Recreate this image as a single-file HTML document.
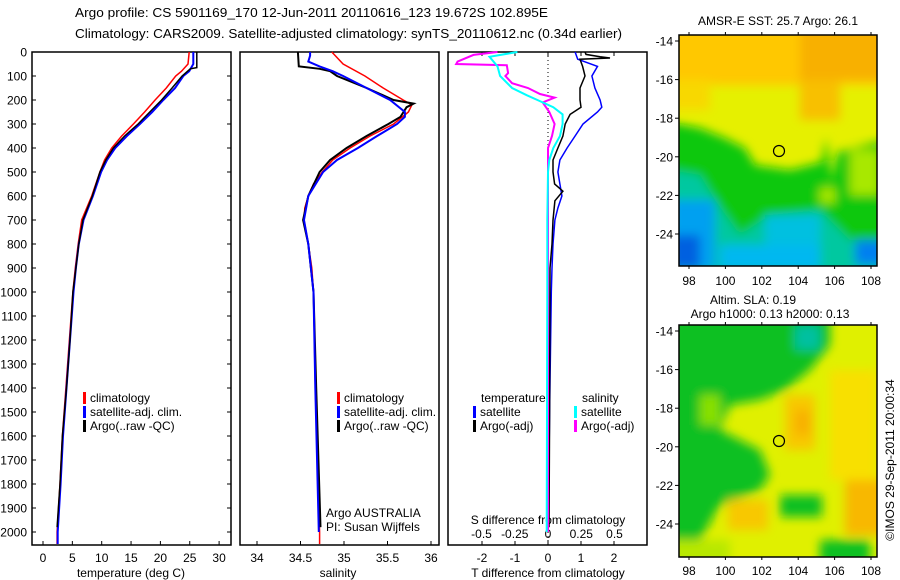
<!DOCTYPE html>
<html><head><meta charset="utf-8">
<style>
html,body{margin:0;padding:0;background:#fff;}
svg{display:block;font-family:"Liberation Sans",sans-serif;}
text{fill:#000;}
</style></head>
<body>
<svg id="chart" width="900" height="580" viewBox="0 0 900 580" xmlns="http://www.w3.org/2000/svg">
<defs>
<filter id="blur" x="-5%" y="-5%" width="110%" height="110%"><feGaussianBlur stdDeviation="5"/></filter>
<clipPath id="clip1"><rect x="679" y="35" width="198" height="231"/></clipPath>
<clipPath id="clip2"><rect x="679" y="325" width="198" height="232"/></clipPath>
</defs>
<text x="75" y="17" font-size="13" textLength="473" lengthAdjust="spacingAndGlyphs">Argo profile: CS 5901169_170 12-Jun-2011 20110616_123 19.672S 102.895E</text>
<text x="75" y="38" font-size="13" textLength="547" lengthAdjust="spacingAndGlyphs">Climatology: CARS2009. Satellite-adjusted climatology: synTS_20110612.nc (0.34d earlier)</text>

<g id="maps">
<g clip-path="url(#clip1)">
<rect x="679" y="35" width="198" height="231" fill="#e6f000"/>
<g filter="url(#blur)">
<rect x="670" y="25" width="220" height="60" fill="#ffc800"/>
<rect x="800" y="25" width="90" height="55" fill="#f8b000"/>
<rect x="670" y="80" width="40" height="30" fill="#f8d800"/>
<rect x="800" y="80" width="40" height="40" fill="#f8c000"/>
<polygon points="670,122 700,128 725,138 745,148 755,165 790,170 822,162 826,138 832,180 838,152 877,142 890,142 890,280 670,280" fill="#10c810"/>
<rect x="850" y="150" width="30" height="45" fill="#a8e800"/>
<rect x="820" y="188" width="15" height="15" fill="#a8e800"/>
<polygon points="670,170 700,175 715,200 740,235 770,215 820,210 850,240 890,250 890,280 670,280" fill="#00c8a0"/>
<rect x="765" y="215" width="55" height="40" fill="#00c0e0"/>
<rect x="670" y="200" width="45" height="70" fill="#00a0f0"/>
<rect x="670" y="235" width="30" height="35" fill="#0060e0"/>
<rect x="720" y="245" width="100" height="25" fill="#00b8f0"/>
<rect x="855" y="240" width="30" height="25" fill="#0080f0"/>
</g>
</g>
<g clip-path="url(#clip2)">
<rect x="679" y="325" width="198" height="232" fill="#e0f000"/>
<g filter="url(#blur)">
<polygon points="670,315 830,315 830,345 810,370 785,390 760,400 730,405 720,430 760,450 770,475 760,490 720,505 700,540 670,540" fill="#10c020"/>
<rect x="795" y="325" width="25" height="25" fill="#00c0a0"/>
<rect x="700" y="395" width="20" height="30" fill="#88e000"/>
<rect x="785" y="395" width="30" height="55" fill="#f8c800"/>
<rect x="795" y="410" width="15" height="25" fill="#f8b000"/>
<rect x="830" y="370" width="47" height="110" fill="#f8e000"/>
<rect x="845" y="480" width="40" height="55" fill="#f8b800"/>
<rect x="728" y="500" width="40" height="30" fill="#f8c800"/>
<rect x="780" y="495" width="42" height="22" fill="#10c020"/>
<rect x="820" y="540" width="50" height="25" fill="#10c020"/>
<rect x="670" y="540" width="60" height="25" fill="#b8e800"/>
</g>
</g>
<rect x="679" y="35" width="198" height="231" fill="none" stroke="#000" stroke-width="1.5"/>
<rect x="679" y="325" width="198" height="232" fill="none" stroke="#000" stroke-width="1.5"/>
<circle cx="779" cy="151" r="5.5" fill="none" stroke="#000" stroke-width="1.2"/>
<circle cx="779" cy="441" r="5.5" fill="none" stroke="#000" stroke-width="1.2"/>
<text x="778" y="25" font-size="12" text-anchor="middle">AMSR-E SST: 25.7 Argo: 26.1</text>
<text x="753" y="304" font-size="12" text-anchor="middle">Altim. SLA: 0.19</text>
<text x="770" y="318" font-size="12" text-anchor="middle">Argo h1000: 0.13 h2000: 0.13</text>
<text x="0" y="0" font-size="12" text-anchor="middle" transform="translate(894,460) rotate(-90)">©IMOS 29-Sep-2011 20:00:34</text>
</g>

<g id="panels"></g>
</svg>
<script>
// ---- data ----
const tDepthClim = [0,50,80,100,150,200,250,300,350,400,450,500,600,700,800,900,1000,1200,1400,1600,1800,2000,2050];
const tClim = [24.9,24.7,23.6,22.6,21.0,19.1,17.3,15.4,13.4,11.7,10.5,9.7,8.3,6.6,6.0,5.5,5.1,4.5,3.9,3.3,2.9,2.4,2.4];
const tSat = [25.6,25.6,24.9,23.9,22.5,20.5,18.6,16.5,14.3,12.3,10.9,9.9,8.5,6.9,6.1,5.6,5.2,4.6,4.0,3.4,3.0,2.5,2.5];
const tDepthArgo = [0,65,70,100,150,200,250,300,350,400,450,500,600,700,800,900,1000,1200,1400,1600,1800,1980];
const tArgo = [26.2,26.2,25.1,23.7,22.0,20.2,18.2,16.2,13.9,12.0,10.7,9.7,8.4,6.8,6.1,5.6,5.1,4.6,4.0,3.3,2.9,2.4];

const sDepth = [0,50,100,150,200,220,250,300,350,400,450,500,550,600,650,700,800,900,1000,1400,2000,2050];
const sClim = [34.86,34.99,35.24,35.45,35.68,35.78,35.74,35.57,35.30,35.07,34.87,34.75,34.65,34.59,34.55,34.54,34.59,34.63,34.65,34.67,34.72,34.72];
const sDepthSat = [0,15,40,60,80,100,150,200,250,270,300,350,400,450,500,600,700,800,1000,1400,2000];
const sSat = [34.61,34.61,34.59,34.72,34.87,34.99,35.26,35.53,35.70,35.70,35.61,35.38,35.16,34.92,34.76,34.59,34.54,34.59,34.65,34.67,34.71];
const sDepthArgo = [0,60,70,80,100,150,200,215,230,270,300,350,400,450,500,600,700,800,1000,1400,1980];
const sArgo = [34.47,34.48,34.72,34.84,34.92,35.26,35.57,35.80,35.72,35.65,35.51,35.26,35.03,34.84,34.72,34.59,34.53,34.59,34.65,34.68,34.73];

const dtDepthSat = [0,30,60,100,150,200,230,250,300,350,400,450,500,550,600,650,700,800,900,1000,1500,2000];
const dtSat = [0.82,0.9,1.5,1.33,1.42,1.58,1.63,1.5,1.06,0.82,0.58,0.36,0.3,0.36,0.42,0.3,0.21,0.15,0.12,0.1,0.05,0.0];
const dtDepthArgo = [0,10,20,25,30,60,100,150,200,230,260,300,350,400,450,500,550,580,620,700,800,900,1500,1980];
const dtArgo = [1.12,1.15,1.58,1.88,0.97,1.05,1.12,0.97,0.97,1.0,0.67,0.52,0.45,0.3,0.15,0.15,0.2,0.45,0.21,0.15,0.12,0.06,0.05,0.03];
const dsDepthSat = [0,20,60,100,150,180,200,230,260,300,350,400,450,500,700,1000,2000];
const dsSat = [-0.23,-0.44,-0.38,-0.36,-0.27,-0.16,-0.08,0.04,0.11,0.11,0.09,0.04,0.01,0.0,-0.005,-0.005,-0.01];
const dsDepthArgo = [0,12,40,50,55,88,100,130,150,175,190,210,250,300,350,400,600,1000,2000];
const dsArgo = [-0.38,-0.56,-0.68,-0.69,-0.31,-0.30,-0.32,-0.27,-0.15,-0.06,0.05,-0.04,0.01,0.05,0.03,0.0,0.0,0.0,0.0];

const depthTicks = [0,100,200,300,400,500,600,700,800,900,1000,1100,1200,1300,1400,1500,1600,1700,1800,1900,2000];
const tempTicks = [0,5,10,15,20,25,30];
const salTicks = [34,34.5,35,35.5,36];
const dtTicks = [-2,-1,0,1,2];
const dsTicks = [-0.5,-0.25,0,0.25,0.5];
const dsTickLabels = ['-0.5','-0.25','0','0.25','0.5'];
const latTicks = [-14,-16,-18,-20,-22,-24];
const lonTicks = [98,100,102,104,106,108];

// ---- axes ----
const TOP=52, BOT=545;
const yD = d => TOP + d*0.24;
const xT = t => 43 + t*5.87;
const xS = s => 257 + (s-34)*87;
const xDT = v => 548 + v*33;
const xDS = v => 548 + v*133;
const NS='http://www.w3.org/2000/svg';
const root = document.getElementById('panels');
function mk(tag, attrs, parent){
  const e=document.createElementNS(NS,tag);
  for(const k in attrs) e.setAttribute(k,attrs[k]);
  (parent||root).appendChild(e); return e;
}
function txt(x,y,s,anchor,size){
  const e=mk('text',{x:x,y:y,'font-size':size||12,'text-anchor':anchor||'start'});
  e.textContent=s; return e;
}
function line(xs, ds, fx, color, w, name){
  const pts = xs.map((v,i)=>fx(v).toFixed(1)+','+yD(ds[i]).toFixed(1)).join(' ');
  const p=mk('polyline',{points:pts,fill:'none',stroke:color,'stroke-width':w,'stroke-linejoin':'miter'});
  
  
  return p;
}
const panels=[[32,231],[240,439],[448,647]];
panels.forEach((p,i)=>{
  const r=mk('rect',{x:p[0],y:TOP,width:p[1]-p[0],height:BOT-TOP,fill:'none',stroke:'#000','stroke-width':1.5});
  
  
});
// depth ticks
depthTicks.forEach(d=>{
  const t=txt(27,yD(d)+4.5,String(d),'end',12);
  
  
  mk('line',{x1:32,x2:36,y1:yD(d),y2:yD(d),stroke:'#000'});
  mk('line',{x1:227,x2:231,y1:yD(d),y2:yD(d),stroke:'#000'});
});
tempTicks.forEach(v=>{
  mk('line',{x1:xT(v),x2:xT(v),y1:BOT,y2:BOT-4,stroke:'#000'});
  const t=txt(xT(v),562,String(v),'middle',12);
  
  
});
salTicks.forEach(v=>{
  mk('line',{x1:xS(v),x2:xS(v),y1:BOT,y2:BOT-4,stroke:'#000'});
  const t=txt(xS(v),562,String(v),'middle',12);
  
  
});
dtTicks.forEach(v=>{
  mk('line',{x1:xDT(v),x2:xDT(v),y1:BOT,y2:BOT-4,stroke:'#000'});
  mk('line',{x1:xDT(v),x2:xDT(v),y1:TOP,y2:TOP+4,stroke:'#000'});
  const t=txt(xDT(v),562,String(v),'middle',12);
  
  
});
dsTicks.forEach((v,i)=>{
  const t=txt(xDS(v),538,dsTickLabels[i],'middle',12);
  
  
});
let a;
a=txt(131,577,'temperature (deg C)','middle',12);


a=txt(338,577,'salinity','middle',12);


a=txt(548,577,'T difference from climatology','middle',12);


a=txt(548,524,'S difference from climatology','middle',12);


// zero dotted line
mk('line',{x1:548,x2:548,y1:TOP,y2:BOT,stroke:'#000','stroke-dasharray':'1,3'});

// series
line(tClim,tDepthClim,xT,'#f00',1.5,'temperature-climatology-line');
line(tSat,tDepthClim,xT,'#00f',2,'temperature-satellite-line');
line(tArgo,tDepthArgo,xT,'#000',1.5,'temperature-argo-line');
line(sClim,sDepth,xS,'#f00',1.5,'salinity-climatology-line');
line(sArgo,sDepthArgo,xS,'#000',2,'salinity-argo-line');
line(sSat,sDepthSat,xS,'#00f',2,'salinity-satellite-line');
line(dtSat,dtDepthSat,xDT,'#00f',1.5,'t-diff-satellite-line');
line(dtArgo,dtDepthArgo,xDT,'#000',1.5,'t-diff-argo-line');
line(dsArgo,dsDepthArgo,xDS,'#f0f',2,'s-diff-argo-line');
line(dsSat,dsDepthSat,xDS,'#0ff',2,'s-diff-satellite-line');

// legends
function legend(x,y,color,label,name){
  const b=mk('rect',{x:x,y:y-10,width:3,height:12,fill:color});
  
  
  const t=txt(x+7,y,label,'start',12);
  
  
}
legend(83,402,'#f00','climatology','legend-climatology');
legend(83,416,'#00f','satellite-adj. clim.','legend-satellite-adj');
legend(83,430,'#000','Argo(..raw -QC)','legend-argo');
legend(337,402,'#f00','climatology','legend-climatology-sal');
legend(337,416,'#00f','satellite-adj. clim.','legend-satellite-adj-sal');
legend(337,430,'#000','Argo(..raw -QC)','legend-argo-sal');
a=txt(481,402,'temperature','start',12);


a=txt(582,402,'salinity','start',12);


legend(473,416,'#00f','satellite','legend-t-satellite');
legend(473,430,'#000','Argo(-adj)','legend-t-argo');
legend(574,416,'#0ff','satellite','legend-s-satellite');
legend(574,430,'#f0f','Argo(-adj)','legend-s-argo');
a=txt(326,517,'Argo AUSTRALIA','start',12);


a=txt(326,531,'PI: Susan Wijffels','start',12);



// map axes
const lonX = l => 679 + (l-97.45)*18.2;
[[35,266,41,285],[325,557,331,575]].forEach((m,mi)=>{
  latTicks.forEach(la=>{
    const y=m[2]+(-14-la)*19.3;
    mk('line',{x1:675,x2:679,y1:y,y2:y,stroke:'#000'});
    const t=txt(673,y+4.5,String(la),'end',12);
    
    
  });
  lonTicks.forEach(lo=>{
    const x=lonX(lo);
    mk('line',{x1:x,x2:x,y1:m[0]-3,y2:m[0],stroke:'#000'});
    mk('line',{x1:x,x2:x,y1:m[1],y2:m[1]+3,stroke:'#000'});
    const t=txt(x,m[3],String(lo),'middle',12);
    
    
  });
});
</script>
</body></html>
